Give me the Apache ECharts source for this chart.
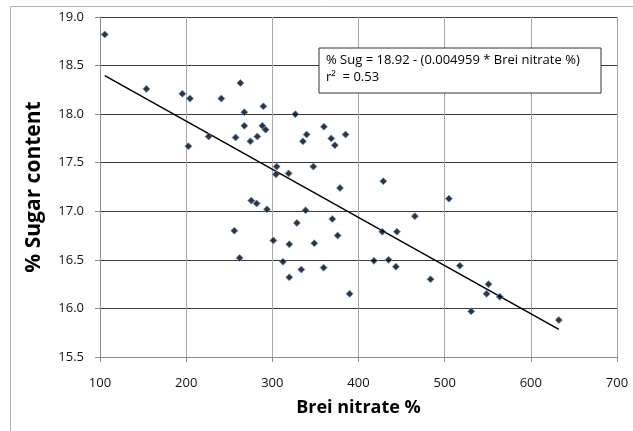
<!DOCTYPE html>
<html>
<head>
<meta charset="utf-8">
<script src="https://cdn.jsdelivr.net/npm/echarts@6/dist/echarts.min.js"></script>
<style>
  html, body { margin: 0; padding: 0; background: #fff; }
  #chart { width: 633px; height: 431px; }
</style>
</head>
<body>
<div id="chart"></div>
<script>
// Brei nitrate % (x) vs % sugar content (y)
var breiNitrate = [
  105.5, 153.8, 195.6, 204.4, 240.8, 262.9, 267.5, 289.6, 326.7, 267.5,
  288.4, 292.2, 226.1, 257.4, 282.6, 274.5, 202.6, 359.9, 339.8, 335.5,
  368.4, 372.6, 385.0, 305.0, 304.2, 318.9, 275.6, 281.8, 293.8, 328.5,
  255.9, 301.2, 319.7, 262.1, 312.3, 319.7, 347.6, 378.5, 428.8, 504.9,
  338.6, 369.6, 465.4, 427.6, 444.6, 375.8, 348.7, 417.9, 434.9, 443.4,
  517.6, 333.6, 359.5, 483.6, 389.7, 550.9, 548.6, 564.0, 530.8, 632.5
]
var sugarContent = [
  18.82, 18.26, 18.21, 18.16, 18.16, 18.32, 18.02, 18.08, 18.00, 17.88,
  17.88, 17.84, 17.77, 17.76, 17.77, 17.72, 17.67, 17.87, 17.79, 17.72,
  17.75, 17.68, 17.79, 17.46, 17.38, 17.39, 17.11, 17.08, 17.02, 16.88,
  16.80, 16.70, 16.66, 16.52, 16.48, 16.32, 17.46, 17.24, 17.31, 17.13,
  17.01, 16.92, 16.95, 16.79, 16.79, 16.75, 16.67, 16.49, 16.50, 16.43,
  16.44, 16.40, 16.42, 16.30, 16.15, 16.25, 16.15, 16.12, 15.97, 15.88
]
// regression from the chart's equation label
var intercept = 18.92
var slope = -0.004959
var xTicks = [100, 200, 300, 400, 500, 600, 700]
var yTicks = [15.5, 16.0, 16.5, 17.0, 17.5, 18.0, 18.5, 19.0]

var points = breiNitrate.map(function (x, i) { return [x, sugarContent[i]] })
var xMinData = Math.min.apply(null, breiNitrate)
var xMaxData = Math.max.apply(null, breiNitrate)
var trend = [
  [xMinData, intercept + slope * xMinData],
  [xMaxData, intercept + slope * xMaxData]
]

var font = '"Open Sans", "Liberation Sans", sans-serif'
var myChart = echarts.init(document.getElementById('chart'))
var option = {
  backgroundColor: '#fff',
  animation: false,
  grid: { left: 100, top: 17, width: 517, height: 340 },
  xAxis: {
    type: 'value',
    min: xTicks[0],
    max: xTicks[xTicks.length - 1],
    interval: 100,
    name: 'Brei nitrate %',
    nameLocation: 'middle',
    nameGap: 42,
    nameTextStyle: { fontFamily: font, fontWeight: 'bold', fontSize: 18, color: '#000' },
    axisLine: { show: true, lineStyle: { color: '#8c8c8c' } },
    axisTick: { show: true, length: 5, lineStyle: { color: '#8c8c8c' } },
    axisLabel: { fontFamily: font, fontSize: 13, color: '#111', margin: 20 },
    splitLine: { show: true, lineStyle: { color: '#a6a6a6', width: 1 } }
  },
  yAxis: {
    type: 'value',
    min: yTicks[0],
    max: yTicks[yTicks.length - 1],
    interval: 0.5,
    name: '% Sugar content',
    nameLocation: 'middle',
    nameGap: 55,
    nameTextStyle: { fontFamily: font, fontWeight: 'bold', fontSize: 21, color: '#000' },
    axisLine: { show: true, lineStyle: { color: '#8c8c8c' } },
    axisTick: { show: true, length: 5, lineStyle: { color: '#8c8c8c' } },
    axisLabel: {
      fontFamily: font, fontSize: 13, color: '#111', margin: 16,
      formatter: function (v) { return v.toFixed(1) }
    },
    splitLine: { show: true, lineStyle: { color: '#3a3a3a', width: 1 } }
  },
  graphic: [
    {
      type: 'rect',
      left: 8, top: 4,
      shape: { width: 660, height: 460 },
      style: { fill: 'none', stroke: '#b0b0b0', lineWidth: 1 },
      silent: true,
      z: -1
    },
    {
      type: 'rect',
      x: 319, y: 48,
      shape: { x: 0, y: 0, width: 282, height: 45 },
      style: { fill: '#fff', stroke: '#333', lineWidth: 1 },
      z: 100
    },
    {
      type: 'text',
      x: 326, y: 54,
      style: {
        text: '% Sug = 18.92 - (0.004959 * Brei nitrate %)',
        font: '13px ' + font,
        fill: '#000'
      },
      z: 101
    },
    {
      type: 'text',
      x: 326, y: 71,
      style: { text: 'r\u00b2  = 0.53', font: '13px ' + font, fill: '#000' },
      z: 101
    }
  ],
  series: [
    {
      name: 'trend',
      type: 'line',
      data: trend,
      symbol: 'none',
      lineStyle: { color: '#000', width: 1.5 },
      z: 3
    },
    {
      name: 'samples',
      type: 'scatter',
      data: points,
      symbol: 'diamond',
      symbolSize: 7,
      itemStyle: { color: '#000', borderColor: '#5b8fd0', borderWidth: 1 },
      z: 4
    }
  ]
}
myChart.setOption(option)
</script>
</body>
</html>
